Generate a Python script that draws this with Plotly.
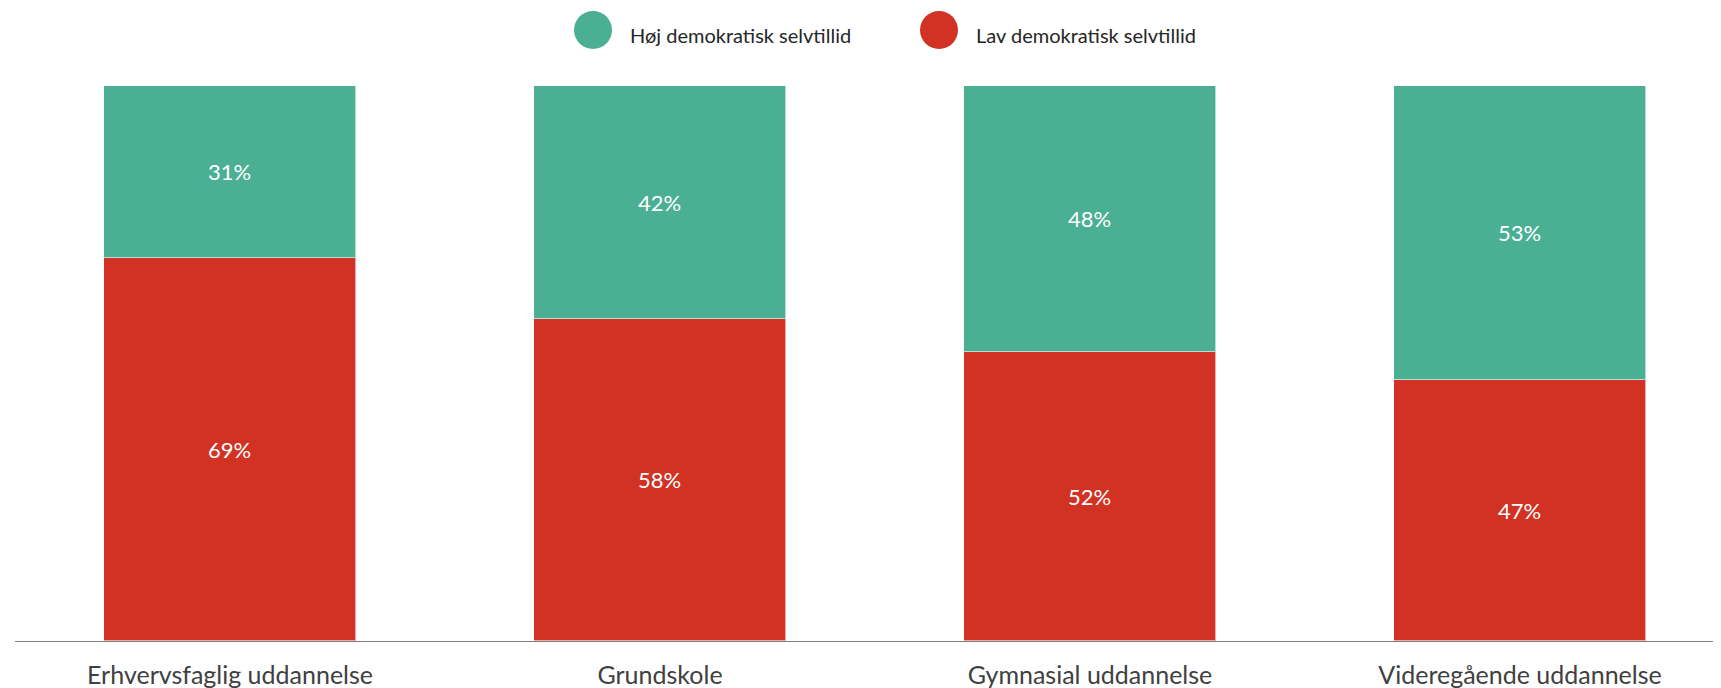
import plotly.graph_objects as go

categories = ["Erhvervsfaglig uddannelse", "Grundskole", "Gymnasial uddannelse", "Videregående uddannelse"]
hoej = [31, 42, 48, 53]
lav = [69, 58, 52, 47]
series_names = ["Høj demokratisk selvtillid", "Lav demokratisk selvtillid"]
GREEN = "#4AAF93"
RED = "#D13224"

# page body has a default 8px margin; size the figure so it fills the window
OFF = 8
W, H = 1721 - OFF, 688 - OFF
ML, MR, MT, MB = 15 - OFF, 0, 86 - OFF, 47
PW = W - ML - MR
PH = H - MT - MB

fig = go.Figure()
fig.add_trace(go.Bar(
    x=categories, y=lav, name=series_names[1],
    marker=dict(color=RED, line=dict(color="rgba(255,255,255,0.6)", width=1)),
    text=[f"{v}%" for v in lav], textposition="inside", insidetextanchor="middle", textangle=0,
    textfont=dict(color="white", size=22, family="Lato"), width=0.588, showlegend=False,
))
fig.add_trace(go.Bar(
    x=categories, y=hoej, name=series_names[0],
    marker=dict(color=GREEN, line=dict(color="rgba(255,255,255,0.6)", width=1)),
    text=[f"{v}%" for v in hoej], textposition="inside", insidetextanchor="middle", textangle=0,
    textfont=dict(color="white", size=22, family="Lato"), width=0.588, showlegend=False,
))

def px_x(px):
    return (px - OFF - ML) / PW

def px_y(py):
    return (H - MB - (py - OFF)) / PH

# custom legend (circles + labels), positions in screen pixels
R = 19
legend_items = [(593, GREEN, 628, series_names[0]), (939, RED, 974, series_names[1])]
for cx, col, tx, label in legend_items:
    fig.add_shape(type="circle", xref="paper", yref="paper",
                  x0=px_x(cx - R), x1=px_x(cx + R), y0=px_y(30 + R), y1=px_y(30 - R),
                  fillcolor=col, line=dict(width=0))
    fig.add_annotation(x=px_x(tx), y=px_y(35), xref="paper", yref="paper", text=label,
                       showarrow=False, xanchor="left", yanchor="middle",
                       font=dict(family="Lato", size=20, color="#262626"))

fig.update_layout(
    barmode="stack", width=W, height=H,
    margin=dict(l=ML, r=MR, t=MT, b=MB),
    plot_bgcolor="white", paper_bgcolor="white",
    showlegend=False, bargap=0,
    font=dict(family="Lato"),
)
fig.update_xaxes(range=[-0.5 - (ML - 15 + OFF) / 430.0, -0.5 + (PW - (15 - OFF - ML)) / 430.0],
                 showline=True, linecolor="#7F7F7F", linewidth=1,
                 showgrid=False, zeroline=False, ticks="", automargin=False, ticklabelstandoff=12,
                 tickfont=dict(family="Lato", size=25, color="#404040"))
fig.update_yaxes(range=[0, 100], visible=False, showgrid=False, zeroline=False, automargin=False)

fig.write_html("out.html")
